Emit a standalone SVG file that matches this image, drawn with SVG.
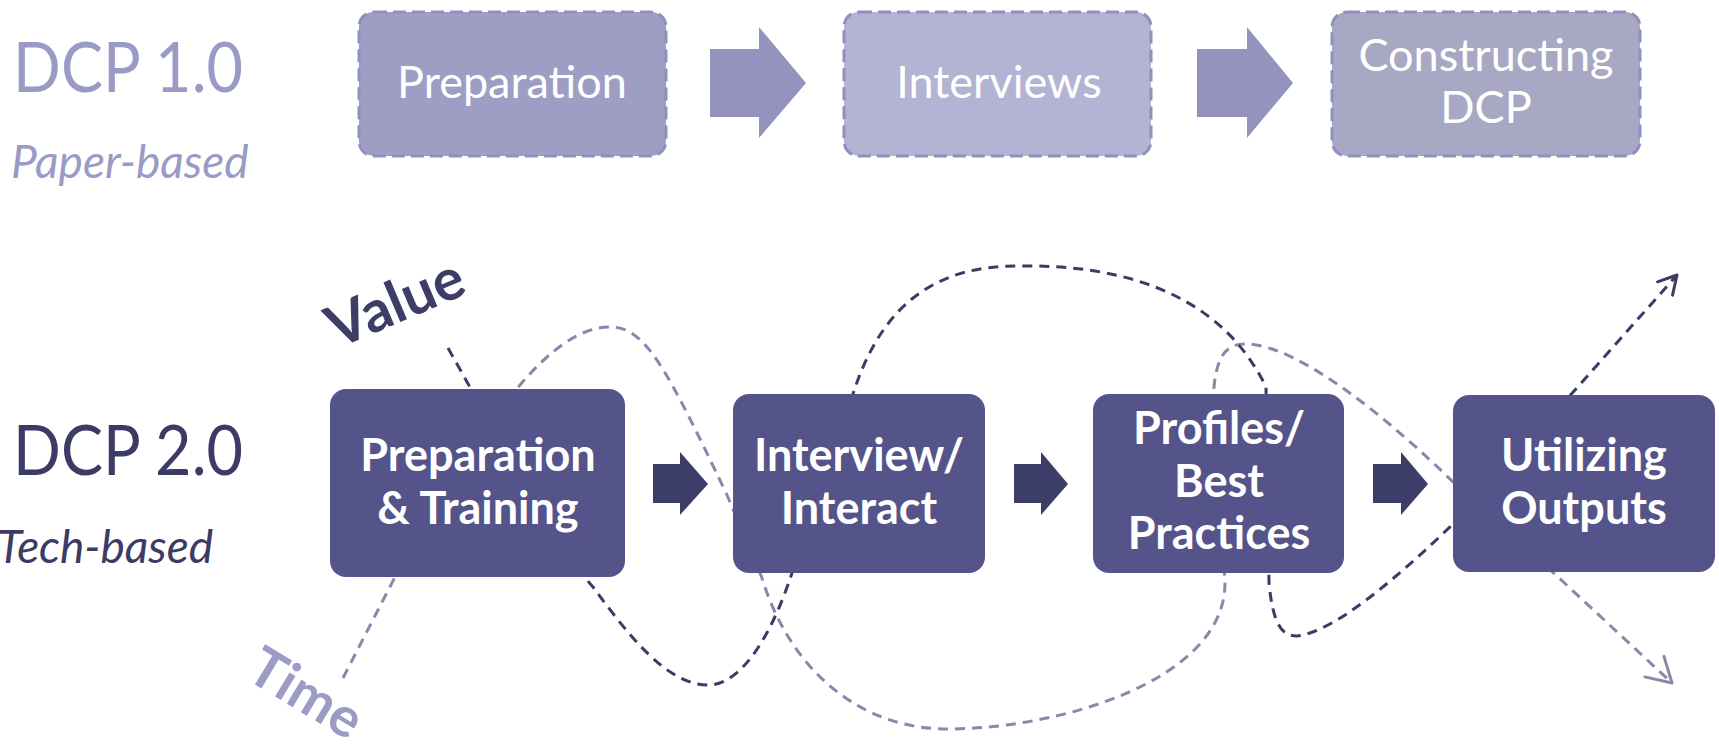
<svg xmlns="http://www.w3.org/2000/svg" width="1719" height="746" viewBox="0 0 1719 746">
<defs>
<style>
text { font-family: Lato, "Open Sans", "Liberation Sans", sans-serif; }
.top rect { stroke: #8f8fc0; stroke-width: 3; stroke-dasharray: 13 6; }
.tt { fill: #ffffff; font-size: 45px; text-anchor: middle; }
.bt { fill: #ffffff; font-size: 45px; font-weight: 700; text-anchor: middle; }
.bx { fill: #54548a; }
.ta { fill: #9393bd; }
.ba { fill: #3d3d69; }
.dk { fill: none; stroke: #3b3b66; stroke-width: 3; stroke-dasharray: 10 7; }
.lt { fill: none; stroke: #8888a8; stroke-width: 3; stroke-dasharray: 10 7; }
</style>
<marker id="mDk" markerUnits="userSpaceOnUse" orient="auto" markerWidth="60" markerHeight="60" viewBox="-30 -30 60 60" refX="0" refY="0" overflow="visible">
<path d="M-18,-10 L0,0 L-18,10" fill="none" stroke="#3b3b66" stroke-width="3" stroke-linecap="round" stroke-linejoin="round"/>
</marker>
<marker id="mLt" markerUnits="userSpaceOnUse" orient="auto" markerWidth="60" markerHeight="60" viewBox="-30 -30 60 60" refX="0" refY="0" overflow="visible">
<path d="M-24,-14 L0,0 L-24,14" fill="none" stroke="#8888a8" stroke-width="3" stroke-linecap="round" stroke-linejoin="round"/>
</marker>
</defs>
<rect width="1719" height="746" fill="#ffffff"/>

<g id="labels">
<text x="13" y="92" font-size="69" fill="#9a9ac6" textLength="230" lengthAdjust="spacingAndGlyphs">DCP 1.0</text>
<text x="11" y="178" font-size="46" font-style="italic" fill="#9a9ac6">Paper-based</text>
<text x="13" y="475" font-size="69" fill="#3b3b66" textLength="230" lengthAdjust="spacingAndGlyphs">DCP 2.0</text>
<text x="-3" y="563" font-size="46" font-style="italic" fill="#3b3b66">Tech-based</text>
<text transform="translate(337,349) rotate(-23)" font-size="58" font-weight="700" fill="#3d3d68">Value</text>
<text transform="translate(244,678) rotate(31)" font-size="55" font-weight="700" fill="#9b9bc6">Time</text>
</g>

<g id="connectors">
<path class="lt" marker-end="url(#mLt)" d="M343,678 L395,577 C440,500 490,420 520,385 C550,350 580,327 610,327 C645,327 665,365 727,495 L762,578 C790,670 860,729 947,729 C1060,729 1225,680 1225,583 L1214,387 C1217,355 1227,344 1245,344 C1300,344 1395,425 1453,482 L1558,577 L1672,683"/>
<path class="dk" marker-end="url(#mDk)" d="M448,348 L471,389 C520,470 560,550 593,587 C625,630 665,685 708,685 C745,685 775,625 792,573 L855,388 C885,300 940,266 1017,266 C1120,264 1220,292 1266,387 L1269,583 C1273,625 1282,636 1297,636 C1335,632 1400,575 1453,524 L1575,390 L1677,275"/>
<path class="ta" d="M710,49 H759 V27 L806,83 L759,138 V117 H710 Z"/>
<path class="ta" d="M1197,49 H1247 V27 L1293,83 L1247,138 V117 H1197 Z"/>
<path class="ba" d="M653,464 H680 V452 L708,484 L680,515 V503 H653 Z"/>
<path class="ba" d="M1014,464 H1041 V452 L1068,484 L1041,515 V503 H1014 Z"/>
<path class="ba" d="M1373,464 H1401 V452 L1428,484 L1401,515 V503 H1373 Z"/>
</g>

<g id="n-prep1" class="top">
<rect x="359" y="12" width="307" height="144" rx="15" fill="#9e9dc4"/>
<text class="tt" x="512" y="98">Preparation</text>
</g>
<g id="n-interviews" class="top">
<rect x="844" y="12" width="307" height="144" rx="15" fill="#b3b3d3"/>
<text class="tt" x="999" y="98">Interviews</text>
</g>
<g id="n-constructing" class="top">
<rect x="1332" y="12" width="308" height="144" rx="15" fill="#a9a8c4"/>
<text class="tt" x="1486" y="71">Constructing</text>
<text class="tt" x="1486" y="123">DCP</text>
</g>

<g id="n-prep2">
<rect class="bx" x="330" y="389" width="295" height="188" rx="16"/>
<text class="bt" x="478" y="471">Preparation</text>
<text class="bt" x="478" y="524">&amp; Training</text>
</g>
<g id="n-interview">
<rect class="bx" x="733" y="394" width="252" height="179" rx="16"/>
<text class="bt" x="859" y="471">Interview/</text>
<text class="bt" x="859" y="524">Interact</text>
</g>
<g id="n-profiles">
<rect class="bx" x="1093" y="394" width="251" height="179" rx="16"/>
<text class="bt" x="1219" y="444">Profiles/</text>
<text class="bt" x="1219" y="497">Best</text>
<text class="bt" x="1219" y="549">Practices</text>
</g>
<g id="n-utilizing">
<rect class="bx" x="1453" y="395" width="262" height="177" rx="16"/>
<text class="bt" x="1584" y="471">Utilizing</text>
<text class="bt" x="1584" y="524">Outputs</text>
</g>
</svg>
